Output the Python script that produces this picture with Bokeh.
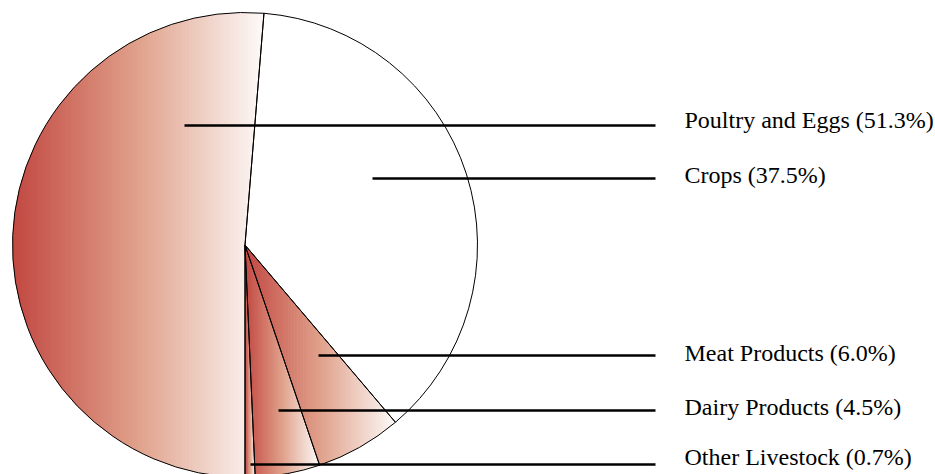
import math
from bokeh.plotting import figure
from bokeh.models import Range1d
from bokeh.core.properties import value
from bokeh.embed import file_html
from bokeh.resources import INLINE

# --- data -------------------------------------------------------------
categories = ["Poultry and Eggs", "Crops", "Meat Products", "Dairy Products", "Other Livestock"]
shares = [51.3, 37.5, 6.0, 4.5, 0.7]
base_colors = ["#C24842", "#FFFFFF", "#C24842", "#C24842", "#C24842"]

# --- layout -----------------------------------------------------------
W, H = 935, 474
CX, CY, R = 244.5, H - 244.5, 232.5
leader_y = [H - 125, H - 178, H - 355, H - 410, H - 464]
text_y = [H - 119.5, H - 174.5, H - 352.5, H - 406.5, H - 456.5]
leader_x0 = [184, 372, 318, 278, 250]
leader_x1 = 655
label_x = 684

def hex_rgb(h):
    h = h.lstrip("#")
    return tuple(int(h[i:i + 2], 16) for i in (0, 2, 4))

def gradient(base, t):
    # dark base on the left, fading through salmon to almost white on the right
    b = hex_rgb(base)
    end = tuple(round(c + (255 - c) * 0.97) for c in b)
    mid = tuple(round(b[i] + (end[i] - b[i]) * w) for i, w in enumerate((0.5, 0.5, 0.4)))
    if t <= 0.5:
        a, c, u = b, mid, t / 0.5
    else:
        a, c, u = mid, end, (t - 0.5) / 0.5
    rgb = tuple(round(a[i] + (c[i] - a[i]) * u) for i in range(3))
    return "#%02x%02x%02x" % rgb

def wedge_polygon(a0, a1):
    n = max(8, int(abs(a1 - a0) / math.radians(0.5)))
    pts = [(CX, CY)]
    for k in range(n + 1):
        a = a0 + (a1 - a0) * k / n
        pts.append((CX + R * math.cos(a), CY + R * math.sin(a)))
    return pts

def clip_half(pts, inside, cross):
    out = []
    if not pts:
        return out
    prev = pts[-1]
    for cur in pts:
        if inside(cur):
            if not inside(prev):
                out.append(cross(prev, cur))
            out.append(cur)
        elif inside(prev):
            out.append(cross(prev, cur))
        prev = cur
    return out

def clip_strip(pts, xa, xb):
    def cross_at(xv):
        def f(p, q):
            t = (xv - p[0]) / (q[0] - p[0])
            return (xv, p[1] + t * (q[1] - p[1]))
        return f
    pts = clip_half(pts, lambda p: p[0] >= xa, cross_at(xa))
    pts = clip_half(pts, lambda p: p[0] <= xb, cross_at(xb))
    return pts

# slice angles, clockwise from straight down
starts, ends = [], []
acc = 0.0
for s in shares:
    a0 = -math.pi / 2 - 2 * math.pi * acc / 100
    a1 = a0 - 2 * math.pi * s / 100
    starts.append(a0)
    ends.append(a1)
    acc += s

p = figure(width=W, height=H, x_range=Range1d(0, W), y_range=Range1d(0, H),
           output_backend="svg", toolbar_location=None, min_border=0,
           x_axis_location=None, y_axis_location=None)
p.grid.visible = False
p.outline_line_color = None
p.background_fill_color = "white"
p.border_fill_color = "white"

# gradient fills, built from thin vertical strips of each slice
xs, ys, cols = [], [], []
for a0, a1, base in zip(starts, ends, base_colors):
    if base.upper() == "#FFFFFF":
        continue
    poly = wedge_polygon(a0, a1)
    xmin = min(q[0] for q in poly)
    xmax = max(q[0] for q in poly)
    step = 1.5
    n = max(1, int(math.ceil((xmax - xmin) / step)))
    for k in range(n):
        xa = xmin + (xmax - xmin) * k / n
        xb = xmin + (xmax - xmin) * (k + 1) / n
        piece = clip_strip(poly, xa, xb + 0.7)
        if len(piece) < 3:
            continue
        xs.append([q[0] for q in piece])
        ys.append([q[1] for q in piece])
        cols.append(gradient(base, (k + 0.5) / n))
p.patches(xs, ys, fill_color=cols, line_alpha=0)

# slice outlines
p.wedge(x=[CX] * len(shares), y=[CY] * len(shares), radius=R,
        start_angle=starts, end_angle=ends, direction="clock",
        fill_alpha=0, line_color="black", line_width=1)

# leader lines and labels
p.segment(x0=leader_x0, y0=leader_y, x1=[leader_x1] * len(shares), y1=leader_y,
          line_color="black", line_width=2.6)
labels = [f"{c} ({s:.1f}%)" for c, s in zip(categories, shares)]
p.text(x=[label_x] * len(labels), y=text_y, text=labels,
       text_font=value("Liberation Serif"), text_font_size="24px",
       text_baseline="middle", text_align="left", text_color="black")

open("out.html", "w").write(file_html(p, INLINE))
